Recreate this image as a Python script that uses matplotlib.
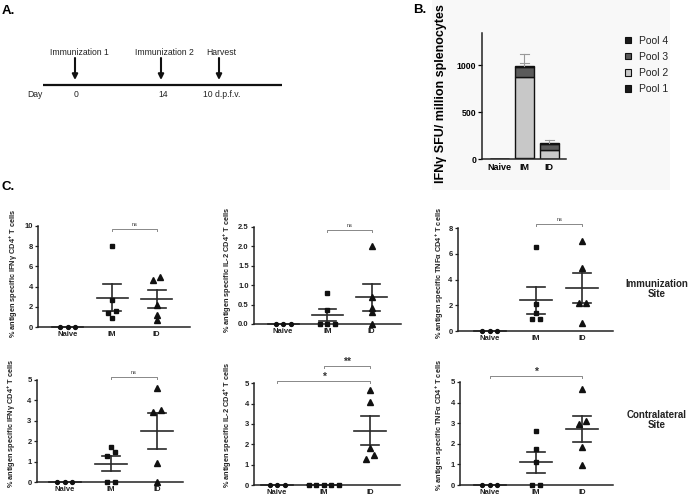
import matplotlib
matplotlib.use('Agg')
import matplotlib.pyplot as plt
import numpy as np
from matplotlib.patches import Patch

plt.rcParams['font.family'] = ['Liberation Sans', 'DejaVu Sans']
plt.rcParams['mathtext.default'] = 'regular'

W, H = 691, 503

# ---------------- data ----------------
groups = ['Naive', 'IM', 'ID']

# Panel A timeline
event_labels = ['Immunization 1', 'Immunization 2', 'Harvest']
day_labels = ['0', '14', '10 d.p.f.v.']

# Panel B: IFNg ELISpot, stacked by peptide pool
pool_names = ['Pool 1', 'Pool 2', 'Pool 3', 'Pool 4']
pool1 = [0, 10, 4]
pool2 = [0, 868, 100]
pool3 = [0, 105, 55]
pool4 = [0, 10, 11]
b_err_outer = [0, 127, 35]
b_err_inner = [0, 35, 0]

# Panel C: % antigen specific CD4+ T cells
ifng_imm_naive = [0, 0, 0]
ifng_imm_im = [8.0, 2.7, 1.6, 1.4, 0.9]
ifng_imm_id = [5.0, 4.7, 2.2, 1.2, 0.7]
il2_imm_naive = [0, 0, 0]
il2_imm_im = [0.8, 0.35, 0, 0, 0]
il2_imm_id = [2.0, 0.7, 0.42, 0.3, 0.0]
tnfa_imm_naive = [0, 0, 0]
tnfa_imm_im = [6.55, 2.1, 1.38, 0.96, 0.96]
tnfa_imm_id = [7.0, 4.88, 2.16, 2.16, 0.6]
ifng_con_naive = [0, 0, 0]
ifng_con_im = [1.74, 1.5, 1.29, 0, 0]
ifng_con_id = [4.63, 3.53, 3.42, 0.93, 0]
il2_con_naive = [0, 0, 0]
il2_con_im = [0, 0, 0, 0, 0]
il2_con_id = [4.66, 4.1, 1.84, 1.46, 1.3]
tnfa_con_naive = [0, 0, 0]
tnfa_con_im = [2.64, 1.77, 1.13, 0, 0]
tnfa_con_id = [4.67, 3.1, 2.95, 1.85, 0.97]

fig = plt.figure(figsize=(W / 100, H / 100), dpi=100)

def rect(x0, x1, ytop, ybot):
    return [x0 / W, 1 - ybot / H, (x1 - x0) / W, (ybot - ytop) / H]

# ---------------- overlay (panel A + letters) ----------------
ov = fig.add_axes([0, 0, 1, 1])
ov.set_xlim(0, W)
ov.set_ylim(H, 0)
ov.axis('off')

# faint background of panel B
ov.add_patch(plt.Rectangle((432, 0), 238, 190, facecolor='#f8f8f8', edgecolor='none', zorder=0))

ov.text(2, 11, 'A.', fontsize=9.5, fontweight='bold', va='center', ha='left')
ov.text(413, 10, 'B.', fontsize=9.5, fontweight='bold', va='center', ha='left')
ov.text(2, 187, 'C.', fontsize=9.5, fontweight='bold', va='center', ha='left')

line_x0, line_x1, line_y = 43, 282, 85
event_x = [75, 161, 219]
label_x = [79, 164, 221]
day_x = [76, 163, 222]
ov.plot([line_x0, line_x1], [line_y, line_y], color='#111', lw=1.6, solid_capstyle='butt')
for ex, lx, dx, el, dl in zip(event_x, label_x, day_x, event_labels, day_labels):
    ov.annotate('', xy=(ex, 80), xytext=(ex, 58),
                arrowprops=dict(arrowstyle='-|>', color='#111', lw=1.5, mutation_scale=8,
                                shrinkA=0, shrinkB=0))
    ov.text(lx, 52, el, fontsize=6.2, ha='center', va='center', color='#222')
    ov.text(dx, 94, dl, fontsize=6.2, ha='center', va='center', color='#222')
ov.text(35, 94, 'Day', fontsize=6.2, ha='center', va='center', color='#222')

ov.text(657, 289, 'Immunization\nSite', fontsize=7, fontweight='bold', ha='center',
        va='center', linespacing=1.1, color='#222')
ov.text(657, 420, 'Contralateral\nSite', fontsize=7, fontweight='bold', ha='center',
        va='center', linespacing=1.1, color='#222')

# ---------------- panel B ----------------
axb = fig.add_axes(rect(482.3, 566, 33, 159.3))
axb.patch.set_alpha(0)
xb = np.arange(len(groups))
pools = [pool1, pool2, pool3, pool4]
pool_colors = ['#1a1a1a', '#c8c8c8', '#5a5a5a', '#1a1a1a']
bottom = np.zeros(len(groups))
for vals, col in zip(pools, pool_colors):
    vals = np.asarray(vals, float)
    axb.bar(xb, vals, bottom=bottom, width=0.76, color=col, edgecolor='#111', linewidth=1.0)
    bottom += vals
tot = bottom
for i in range(len(groups)):
    if b_err_outer[i] > 0:
        top = tot[i] + b_err_outer[i]
        axb.plot([xb[i], xb[i]], [tot[i], top], color='#999', lw=0.8, zorder=1)
        axb.plot([xb[i] - 0.18, xb[i] + 0.18], [top, top], color='#999', lw=0.8)
    if b_err_inner[i] > 0:
        t2 = tot[i] + b_err_inner[i]
        axb.plot([xb[i] - 0.18, xb[i] + 0.18], [t2, t2], color='#999', lw=0.8)
axb.set_xlim(-0.68, 2.68)
axb.set_ylim(0, 1343)
axb.set_yticks([0, 500, 1000])
axb.set_xticks(xb)
axb.set_xticklabels(groups)
for s in ['top', 'right']:
    axb.spines[s].set_visible(False)
for s in ['left', 'bottom']:
    axb.spines[s].set_linewidth(1.1)
    axb.spines[s].set_color('#222')
axb.tick_params(axis='y', length=3, width=0.9, labelsize=6.3, pad=1.5)
axb.tick_params(axis='x', length=0, labelsize=6.5, pad=3)
for lab in axb.get_xticklabels() + axb.get_yticklabels():
    lab.set_fontweight('bold')
axb.set_ylabel('IFNγ SFU/ million splenocytes', fontsize=9, fontweight='bold', labelpad=4)
axb.yaxis.set_label_coords((447 - 482.3) / (566 - 482.3), (159.3 - 94) / (159.3 - 33))

handles = [Patch(facecolor=c, edgecolor='#111', linewidth=0.8) for c in pool_colors]
leg = fig.legend(handles[::-1], pool_names[::-1], loc='upper left',
                 bbox_to_anchor=(625 / W, 1 - 35.5 / H), frameon=False, fontsize=7.5,
                 handlelength=0.6, handleheight=0.6, handletextpad=0.7,
                 labelspacing=0.6, borderpad=0, borderaxespad=0)
for t in leg.get_texts():
    t.set_color('#222')

# ---------------- panel C ----------------
def swarm(vals, ppu_y, ppu_x, thr=4.5, d_px=7.5):
    vals = np.asarray(vals, float)
    order = np.argsort(vals, kind='stable')
    offs = np.zeros(len(vals))
    clusters, cur = [], [order[0]]
    for i in order[1:]:
        if (vals[i] - vals[cur[-1]]) * ppu_y < thr:
            cur.append(i)
        else:
            clusters.append(cur)
            cur = [i]
    clusters.append(cur)
    for c in clusters:
        n = len(c)
        for k, i in enumerate(c):
            offs[i] = (k - (n - 1) / 2) * d_px / ppu_x
    return offs

markers = ['o', 's', '^']
msizes = [2.8, 3.3, 3.8]

panels = [
    dict(data=[ifng_imm_naive, ifng_imm_im, ifng_imm_id], r=(38, 190, 226, 327),
         ylim=10, yt=[0, 2, 4, 6, 8, 10], xl=(-0.667, 2.75), cyt='IFNγ',
         sig=[(1, 2, 9.7, 'ns')], ylx=20, lyc=273),
    dict(data=[il2_imm_naive, il2_imm_im, il2_imm_id], r=(254, 400.7, 226.7, 324),
         ylim=2.5, yt=[0, 0.5, 1.0, 1.5, 2.0, 2.5], xl=(-0.66, 2.66), cyt='IL-2',
         sig=[(1, 2, 2.42, 'ns')], ylx=234, lyc=270, fmt='%.1f'),
    dict(data=[tnfa_imm_naive, tnfa_imm_im, tnfa_imm_id], r=(457.7, 612.7, 228.3, 331),
         ylim=8, yt=[0, 2, 4, 6, 8], xl=(-0.70, 2.66), cyt='TNFα',
         sig=[(1, 2, 8.3, 'ns')], ylx=446, lyc=273),
    dict(data=[ifng_con_naive, ifng_con_im, ifng_con_id], r=(36.7, 183.3, 380, 482.3),
         ylim=5, yt=[0, 1, 2, 3, 4, 5], xl=(-0.61, 2.57), cyt='IFNγ',
         sig=[(1, 2, 5.15, 'ns')], ylx=18, lyc=423),
    dict(data=[il2_con_naive, il2_con_im, il2_con_id], r=(254, 400, 383.3, 485),
         ylim=5, yt=[0, 1, 2, 3, 4, 5], xl=(-0.50, 2.65), cyt='IL-2',
         sig=[(0, 2, 5.1, '*'), (1, 2, 5.85, '**')], ylx=234, lyc=425),
    dict(data=[tnfa_con_naive, tnfa_con_im, tnfa_con_id], r=(460, 612.7, 382, 485),
         ylim=5, yt=[0, 1, 2, 3, 4, 5], xl=(-0.65, 2.66), cyt='TNFα',
         sig=[(0, 2, 5.3, '*')], ylx=446, lyc=425),
]

for p in panels:
    x0, x1, yt_, yb_ = p['r']
    ax = fig.add_axes(rect(x0, x1, yt_, yb_))
    ax.patch.set_alpha(0)
    ax.set_xlim(*p['xl'])
    ax.set_ylim(0, p['ylim'])
    ppu_y = (yb_ - yt_) / p['ylim']
    ppu_x = (x1 - x0) / (p['xl'][1] - p['xl'][0])
    for gi, vals in enumerate(p['data']):
        vals = np.asarray(vals, float)
        offs = swarm(vals, ppu_y, ppu_x)
        ax.plot(gi + offs, vals, linestyle='none', marker=markers[gi], ms=msizes[gi],
                color='#111', mec='#111', clip_on=False, zorder=3)
        m = vals.mean()
        se = vals.std(ddof=1) / np.sqrt(len(vals))
        col = '#2a2a2a'
        ax.plot([gi - 0.35, gi + 0.35], [m, m], color=col, lw=1.2, clip_on=False, zorder=2)
        if se > 0:
            ax.plot([gi, gi], [m - se, m + se], color=col, lw=1.2, zorder=2)
            for v in (m - se, m + se):
                ax.plot([gi - 0.2, gi + 0.2], [v, v], color=col, lw=1.2, zorder=2)
    tick_h = 2.0 / ppu_y
    for (a, b, y, txt) in p['sig']:
        ax.plot([a, a, b, b], [y - tick_h, y, y, y - tick_h], color='#888', lw=0.7,
                clip_on=False)
        if txt == 'ns':
            ax.text((a + b) / 2, y + 2.0 / ppu_y, txt, fontsize=4, ha='center',
                    va='bottom', color='#333')
        else:
            ax.text((a + b) / 2, y - 1.0 / ppu_y, txt, fontsize=7.5, ha='center',
                    va='bottom', color='#333', fontweight='bold')
    ax.set_yticks(p['yt'])
    if 'fmt' in p:
        ax.set_yticklabels([p['fmt'] % v for v in p['yt']])
    ax.set_xticks(range(len(groups)))
    ax.set_xticklabels(groups)
    for s in ['top', 'right']:
        ax.spines[s].set_visible(False)
    for s in ['left', 'bottom']:
        ax.spines[s].set_linewidth(1.1)
        ax.spines[s].set_color('#222')
    ax.tick_params(axis='y', length=2.5, width=0.9, labelsize=5.5, pad=1.2, colors='#222')
    ax.tick_params(axis='x', length=0, labelsize=5.5, pad=3, colors='#222')
    for lab in ax.get_xticklabels() + ax.get_yticklabels():
        lab.set_fontweight('bold')
    ax.set_ylabel('% antigen specific ' + p['cyt'] + ' CD4$^{+}$ T cells', fontsize=5.3,
                  fontweight='bold', color='#222')
    ax.yaxis.set_label_coords((p['ylx'] - x0) / (x1 - x0), (yb_ - p['lyc']) / (yb_ - yt_))

fig.savefig('out.png', dpi=100)
